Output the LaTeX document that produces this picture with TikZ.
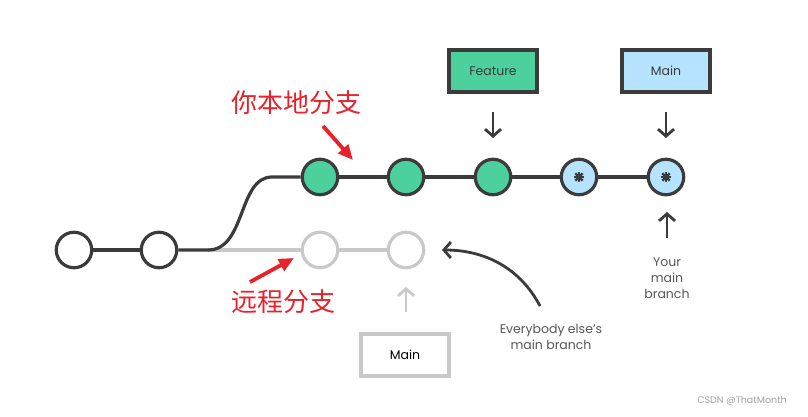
\documentclass[tikz,border=0pt]{standalone}
\usepackage{fontspec}
\setmainfont{Poppins}
\newfontfamily\cjk{Noto Sans CJK SC}
\usetikzlibrary{arrows.meta}
\definecolor{dk}{HTML}{3B3B3B}
\definecolor{gr}{HTML}{C9C9C9}
\definecolor{grn}{HTML}{4CD09E}
\definecolor{blu}{HTML}{B6E3FF}
\definecolor{rd}{HTML}{E8212B}
\definecolor{txt}{HTML}{555555}
\begin{document}
\begin{tikzpicture}[x=1pt,y=-1pt,
  commit/.style={circle, draw=dk, line width=3.2pt, minimum size=35.5pt, inner sep=0pt, fill=white},
  gcommit/.style={commit, draw=gr},
  edge/.style={draw=dk, line width=3.2pt},
  gedge/.style={draw=gr, line width=3.2pt},
  label box/.style={draw=dk, line width=3.2pt, minimum width=88pt, minimum height=42pt, inner sep=0pt, font=\fontsize{12.5}{14}\selectfont, text=dk},
  pointer/.style={draw=dk, line width=2.8pt, -{Straight Barb[length=7pt,width=16pt,line width=2.8pt]}},
  gpointer/.style={pointer, draw=gr},
  redarrow/.style={draw=rd, line width=3.8pt, -{Triangle[length=15pt,width=13pt]}},
  redtext/.style={text=rd, font=\cjk\fontsize{26}{28}\selectfont},
  small/.style={text=txt, font=\fontsize{12.5}{16}\selectfont, align=center}
]
\useasboundingbox (0,0) rectangle (808,417);

% base commits
\node[commit] (c1) at (74,250) {};
\node[commit] (c2) at (159,250) {};
% grey remote commits
\node[gcommit] (r1) at (320,250) {};
\node[gcommit] (r2) at (406,250) {};
% local commits
\node[commit, fill=grn] (g1) at (320,177) {};
\node[commit, fill=grn] (g2) at (406,177) {};
\node[commit, fill=grn] (g3) at (493,177) {};
\node[commit, fill=blu] (b1) at (579,177) {};
\node[commit, fill=blu] (b2) at (666,177) {};

\coordinate (fork) at (208,250);
\coordinate (up) at (272,177);

\path[gedge] (fork) -- (r1);
\path[gedge] (r1) -- (r2);
\path[edge] (c1) -- (c2);
\path[edge] (c2) -- (fork) .. controls (246,250) and (238,177) .. (up) -- (g1);
\path[edge] (g1) -- (g2);
\path[edge] (g2) -- (g3);
\path[edge] (g3) -- (b1);
\path[edge] (b1) -- (b2);

% asterisks
\foreach \n in {b1,b2}{
  \foreach \a in {0,45,90,135}{
    \draw[dk, line width=2.4pt] (\n.center) ++(\a:5.2pt) -- ++(\a+180:10.4pt);
  }
  \fill[dk] (\n.center) circle (2.8pt);
}

% label boxes
\node[label box, fill=grn] (feat) at (493,71) {Feature};
\node[label box, fill=blu] (mainb) at (666,71) {Main};
\node[label box, draw=gr, fill=white, text=black] (rmain) at (405,355) {Main};

\coordinate (fa) at (493,112);
\coordinate (ma) at (666,112);
\path[pointer] (fa) -- ++(0,26);
\path[pointer] (ma) -- ++(0,26);

\coordinate (ya) at (667,238);
\path[pointer] (ya) -- ++(0,-26);
\coordinate (ra) at (406,312);
\path[gpointer] (ra) -- ++(0,-25);

% your main branch text
\node[small] (ymb) at (667,278) {Your\\main\\branch};
% everybody else's
\node[small] (ebt) at (551,337) {Everybody else’s\\main branch};
\coordinate (cs) at (540,306);
\coordinate (ct) at (442,250);
\path[pointer] (cs) .. controls (520,268) and (485,250) .. (ct);

% red annotations
\node[redtext] (loc) at (296,103) {你本地分支};
\node[redtext] (rem) at (283,302) {远程分支};
\coordinate (la) at (323,126);
\coordinate (lb) at (353,160);
\path[redarrow] (la) -- (lb);
\coordinate (ra1) at (250,282);
\coordinate (ra2) at (294,258);
\path[redarrow] (ra1) -- (ra2);

% watermark
\node[text=gr!80!black, font=\fontsize{9.5}{10}\selectfont] (wm) at (742,401) {CSDN @ThatMonth};
\end{tikzpicture}
\end{document}
